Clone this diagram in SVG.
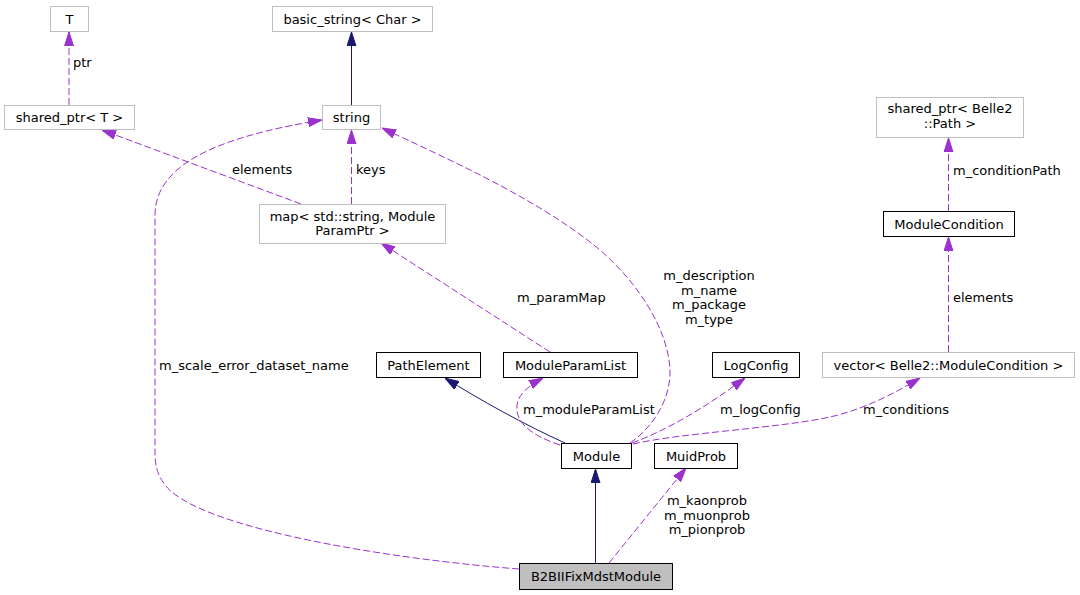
<svg xmlns="http://www.w3.org/2000/svg" width="1080" height="595" viewBox="0 0 1080 595">
<style>
  text { font-family: "DejaVu Sans", "Liberation Sans", sans-serif; font-size: 13px; fill: #000; }
  .n text { text-anchor: middle; }
  .gray rect { fill: #fff; stroke: #bfbfbf; stroke-width: 1; }
  .doc rect { fill: #fff; stroke: #000; stroke-width: 1; }
  .root rect { fill: #bfbfbf; stroke: #000; stroke-width: 1; }
  .use { fill: none; stroke: #9a32cd; stroke-width: 1; stroke-dasharray: 7,3; marker-end: url(#ap); }
  .inh { fill: none; stroke: #191970; stroke-width: 1; marker-end: url(#ai); }
  .lbl text.m { text-anchor: middle; }
</style>
<defs>
  <marker id="ap" markerUnits="userSpaceOnUse" viewBox="0 0 14 10" markerWidth="14" markerHeight="10" refX="14" refY="5" orient="auto">
    <path d="M0,0.5 L14,5 L0,9.5 Z" fill="#9a32cd" stroke="#9a32cd" stroke-width="1"/>
  </marker>
  <marker id="ai" markerUnits="userSpaceOnUse" viewBox="0 0 14 10" markerWidth="14" markerHeight="10" refX="14" refY="5" orient="auto">
    <path d="M0,0.5 L14,5 L0,9.5 Z" fill="#191970" stroke="#191970" stroke-width="1"/>
  </marker>
</defs>
<rect width="1080" height="595" fill="#fff"/>

<g id="connectors">
  <path class="use" d="M69,105 L69,32"/>
  <path class="inh" d="M351.5,105 L351.5,32"/>
  <path class="use" d="M301,204 L102,130"/>
  <path class="use" d="M351.5,204 L351.5,130"/>
  <path class="use" d="M550,352 L381,243"/>
  <path class="use" d="M630,443 C652,428 671,400 670,370 C668,330 640,285 600,250 C540,200 450,160 382,128"/>
  <path class="use" d="M519,569 C400,560 200,530 165,485 C155,472 155,460 155,450 L155,215 C155,160 230,135 322,120"/>
  <path class="inh" d="M565,443 C525,425 480,400 445,378"/>
  <path class="use" d="M560,445 C530,435 515,422 517,405 C518,395 528,386 543,378"/>
  <path class="use" d="M632,443 C665,431 705,408 745,378"/>
  <path class="use" d="M633,444 C680,433 780,428 830,417 C865,409 895,393 920,378"/>
  <path class="use" d="M948.5,352 L948.5,237"/>
  <path class="use" d="M948.5,211 L948.5,138"/>
  <path class="inh" d="M595.5,563 L595.5,469"/>
  <path class="use" d="M609,563 L686,468"/>
</g>

<g id="labels" class="lbl">
  <text x="73" y="66.5">ptr</text>
  <text x="232" y="174">elements</text>
  <text x="356" y="174">keys</text>
  <text x="517" y="302">m_paramMap</text>
  <text class="m" x="709" y="280">m_description</text>
  <text class="m" x="709" y="294.5">m_name</text>
  <text class="m" x="709" y="309">m_package</text>
  <text class="m" x="709" y="323.5">m_type</text>
  <text x="159" y="369.5">m_scale_error_dataset_name</text>
  <text x="523" y="414">m_moduleParamList</text>
  <text x="720" y="414">m_logConfig</text>
  <text x="863" y="414">m_conditions</text>
  <text x="953" y="302">elements</text>
  <text x="953" y="174.5">m_conditionPath</text>
  <text class="m" x="707" y="505">m_kaonprob</text>
  <text class="m" x="707" y="519.5">m_muonprob</text>
  <text class="m" x="707" y="534">m_pionprob</text>
</g>

<g id="node-T" class="n gray"><rect x="50.5" y="6.5" width="38" height="25"/><text x="69.5" y="23.5">T</text></g>
<g id="node-basic_string" class="n gray"><rect x="272.5" y="6.5" width="160" height="25"/><text x="352.5" y="23.5">basic_string&lt; Char &gt;</text></g>
<g id="node-shared_ptr_T" class="n gray"><rect x="4.5" y="105.5" width="130" height="24"/><text x="69.5" y="122">shared_ptr&lt; T &gt;</text></g>
<g id="node-string" class="n gray"><rect x="322.5" y="105.5" width="58" height="24"/><text x="351.5" y="122">string</text></g>
<g id="node-map" class="n gray"><rect x="259.5" y="204.5" width="186" height="39"/><text x="352.5" y="220.5">map&lt; std::string, Module</text><text x="352.5" y="235">ParamPtr &gt;</text></g>
<g id="node-shared_ptr_Path" class="n gray"><rect x="876.5" y="97.5" width="147" height="40"/><text x="950" y="113">shared_ptr&lt; Belle2</text><text x="950" y="128">::Path &gt;</text></g>
<g id="node-ModuleCondition" class="n doc"><rect x="883.5" y="211.5" width="131" height="25"/><text x="949" y="228.5">ModuleCondition</text></g>
<g id="node-PathElement" class="n doc"><rect x="376.5" y="352.5" width="104" height="25"/><text x="428.5" y="369.5">PathElement</text></g>
<g id="node-ModuleParamList" class="n doc"><rect x="503.5" y="352.5" width="134" height="25"/><text x="570.5" y="369.5">ModuleParamList</text></g>
<g id="node-LogConfig" class="n doc"><rect x="712.5" y="352.5" width="87" height="25"/><text x="756" y="369.5">LogConfig</text></g>
<g id="node-vector" class="n gray"><rect x="822.5" y="352.5" width="252" height="25"/><text x="948.5" y="369.5">vector&lt; Belle2::ModuleCondition &gt;</text></g>
<g id="node-Module" class="n doc"><rect x="561.5" y="443.5" width="70" height="25"/><text x="596.5" y="460.5">Module</text></g>
<g id="node-MuidProb" class="n doc"><rect x="654.5" y="443.5" width="83" height="25"/><text x="696" y="460.5">MuidProb</text></g>
<g id="node-B2BIIFixMdstModule" class="n root"><rect x="519.5" y="563.5" width="153" height="26"/><text x="596" y="581">B2BIIFixMdstModule</text></g>
</svg>
